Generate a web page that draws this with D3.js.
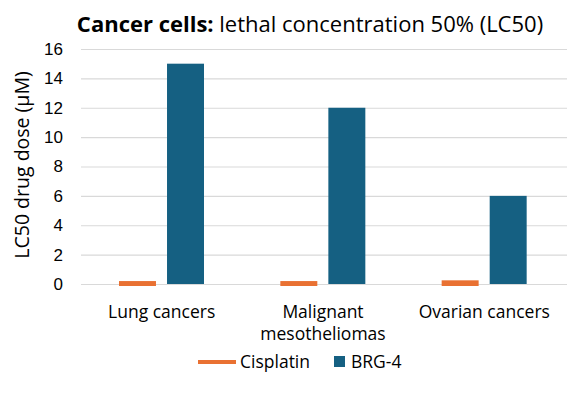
<!DOCTYPE html>
<html><head><meta charset="utf-8">
<script src="https://cdn.jsdelivr.net/npm/d3@7"></script>
<style>body{margin:0;background:#fff;} svg{display:block;}</style>
</head><body>
<svg id="c" width="581" height="396"></svg>
<script>
const categories = [["Lung cancers"], ["Malignant", "mesotheliomas"], ["Ovarian cancers"]];
const seriesNames = ["Cisplatin", "BRG-4"];
const cisplatin = [0.2, 0.2, 0.25];
const brg4 = [15, 12, 6];
const yTicks = [0, 2, 4, 6, 8, 10, 12, 14, 16];
const colors = ["#E97132", "#156082"];

const svg = d3.select("#c");
const font = "'Open Sans', sans-serif";
const x = d3.scaleBand().domain(d3.range(categories.length)).range([81, 565]);
const y = d3.scaleLinear().domain([0, 16]).range([284, 49]);
const inner = d3.scaleBand().domain(d3.range(2)).range([38, 123]).paddingInner(0.23);

// gridlines
svg.append("g").selectAll("line").data(yTicks).join("line")
  .attr("x1", 81).attr("x2", 567)
  .attr("y1", d => y(d) + 0.5).attr("y2", d => y(d) + 0.5)
  .attr("stroke", "#d9d9d9").attr("stroke-width", 1.2);

// y tick labels
const yAxis = d3.axisLeft(y).tickValues(yTicks).tickSize(0).tickPadding(0);
const ya = svg.append("g").attr("transform", "translate(63,0)").call(yAxis);
ya.select(".domain").remove();
ya.selectAll("text").attr("font-family", "'Liberation Sans', Arial, sans-serif").attr("font-size", 17).attr("fill", "#000");

// bars
const data = [cisplatin, brg4];
data.forEach((vals, s) => {
  svg.append("g").selectAll("rect").data(vals).join("rect")
    .attr("x", (d, i) => x(i) + inner(s))
    .attr("width", inner.bandwidth())
    .attr("y", d => y(d))
    .attr("height", d => y(0) - y(d) + (s === 0 ? 2 : 0))
    .attr("fill", colors[s]);
});

// category labels
const cat = svg.append("g").attr("font-family", font).attr("font-size", 17.5).attr("fill", "#000").attr("text-anchor", "middle");
categories.forEach((lines, i) => {
  lines.forEach((t, j) => {
    cat.append("text").attr("x", x(i) + x.bandwidth() / 2).attr("y", 318 + j * 22).text(t);
  });
});

// y axis title
svg.append("text").attr("transform", "translate(29,165) rotate(-90)")
  .attr("text-anchor", "middle").attr("font-family", font).attr("font-size", 19.5).attr("fill", "#000")
  .text("LC50 drug dose (μM)");

// title
const title = svg.append("text").attr("x", 310).attr("y", 32).attr("text-anchor", "middle")
  .attr("font-family", font).attr("font-size", 22).attr("fill", "#000");
title.append("tspan").attr("font-weight", "bold").text("Cancer cells: ");
title.append("tspan").text("lethal concentration 50% (LC50)");

// legend
const lg = svg.append("g").attr("font-family", font).attr("font-size", 17.5).attr("fill", "#000");
lg.append("line").attr("x1", 198).attr("x2", 236).attr("y1", 362).attr("y2", 362).attr("stroke", colors[0]).attr("stroke-width", 4);
lg.append("text").attr("x", 240).attr("y", 368).text(seriesNames[0]);
lg.append("rect").attr("x", 334).attr("y", 356).attr("width", 11).attr("height", 11).attr("fill", colors[1]);
lg.append("text").attr("x", 351).attr("y", 368).text(seriesNames[1]);
</script>
</body></html>
